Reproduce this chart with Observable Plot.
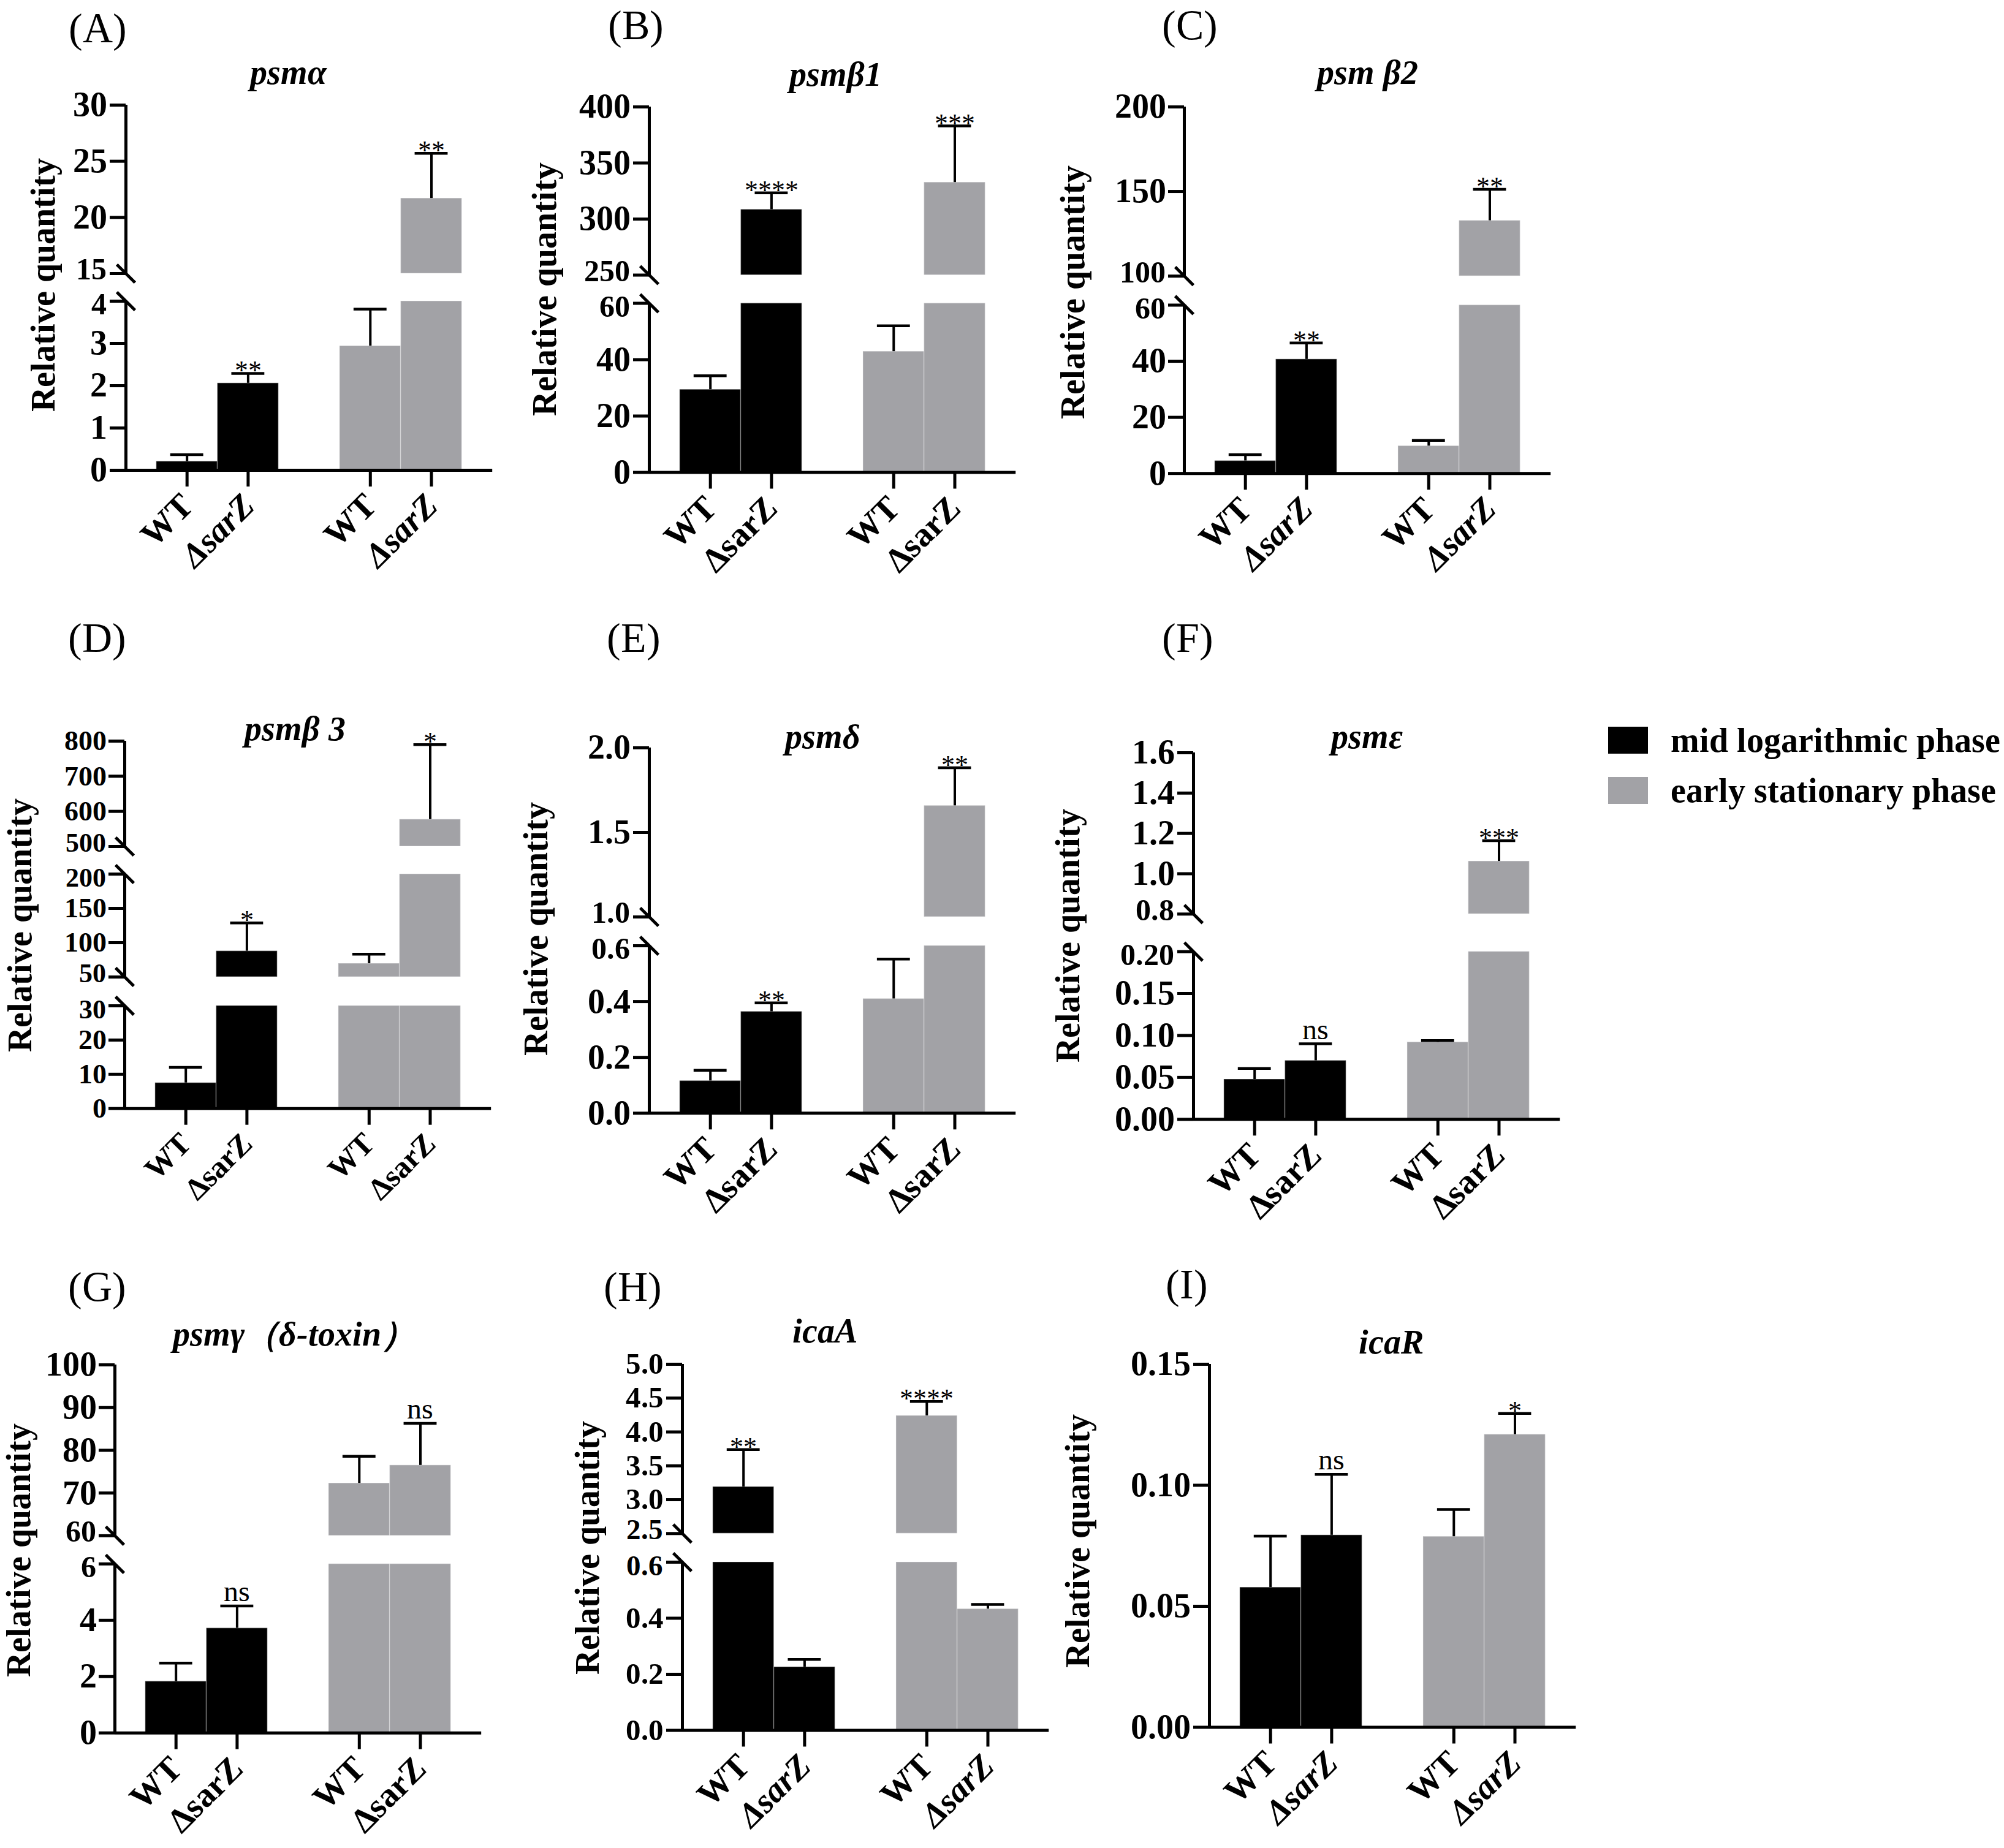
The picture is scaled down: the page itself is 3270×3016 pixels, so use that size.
<!DOCTYPE html>
<html>
<head>
<meta charset="utf-8">
<script src="https://cdn.jsdelivr.net/npm/d3@7"></script>
<script src="https://cdn.jsdelivr.net/npm/@observablehq/plot@0.6"></script>
<style>
@font-face { font-family: "PaperSerif"; font-weight: 700; font-style: normal;
  src: local("Liberation Serif Bold"), local("LiberationSerif-Bold"), local("DejaVu Serif Bold"), local("DejaVuSerif-Bold"); }
@font-face { font-family: "PaperSerif"; font-weight: 700; font-style: italic;
  src: local("Liberation Serif Bold Italic"), local("LiberationSerif-BoldItalic"), local("DejaVu Serif Bold Italic"), local("DejaVuSerif-BoldItalic"); }
@font-face { font-family: "PaperSerif"; font-weight: 400; font-style: normal;
  src: local("Liberation Serif"), local("Liberation Serif Regular"), local("LiberationSerif"), local("LiberationSerif-Regular"); }
@font-face { font-family: "PaperSerif"; font-weight: 400; font-style: italic;
  src: local("Liberation Serif Italic"), local("LiberationSerif-Italic"); }
html, body { margin: 0; padding: 0; background: #fff; }
#page { position: relative; width: 3270px; height: 3016px; background: #fff; overflow: hidden;
  font-family: "PaperSerif", "Liberation Serif", serif; color: #000; }
.abs { position: absolute; white-space: nowrap; line-height: 1; }
.plabel { font-size: 68px; transform: translateY(-50%); }
.title { font-size: 56px; font-weight: bold; font-style: italic; transform: translate(-50%, -50%); }
.ylab { font-size: 56px; font-weight: bold; transform: translate(-50%, -50%) rotate(-90deg); }
.panel { position: absolute; }
.panel svg { overflow: visible; max-width: none; }
.leg { position: absolute; display: flex; align-items: center; font-size: 56px; font-weight: bold; white-space: nowrap; }
.leg .sw { width: 65px; height: 44px; margin-right: 37px; }
</style>
</head>
<body>
<div id="page"></div>
<script>
// ---------- data ----------
const groups = ["mid logarithmic phase", "early stationary phase"];
const strains = ["WT", "ΔsarZ"];
const groupColors = ["#000000", "#a2a2a6"];
const panelIds = ["A", "B", "C", "D", "E", "F", "G", "H", "I"];
const genes = ["psmα", "psmβ1", "psm β2", "psmβ 3", "psmδ", "psmε", "psmγ（δ-toxin）", "icaA", "icaR"];
const yTitle = "Relative quantity";

// bar order: WT mid, ΔsarZ mid, WT early, ΔsarZ early
const meanA = [0.21, 2.06, 2.94, 21.7];
const errA = [0.16, 0.23, 0.87, 4.0];
const sigA = ["", "**", "", "**"];
const segA = [[0, 4], [15, 30]];
const tickA = [["0", "1", "2", "3", "4"], ["15", "20", "25", "30"]];

const meanB = [29.4, 308.5, 42.9, 332.7];
const errB = [4.9, 14.8, 9.1, 50.3];
const sigB = ["", "****", "", "***"];
const segB = [[0, 60], [250, 400]];
const tickB = [["0", "20", "40", "60"], ["250", "300", "350", "400"]];

const meanC = [4.5, 40.7, 9.8, 132.8];
const errC = [2.2, 5.8, 2.0, 18.5];
const sigC = ["", "**", "", "**"];
const segC = [[0, 60], [100, 200]];
const tickC = [["0", "20", "40", "60"], ["100", "150", "200"]];

const meanD = [7.5, 87.8, 69.6, 577];
const errD = [4.5, 41, 13.6, 213];
const sigD = ["", "*", "", "*"];
const segD = [[0, 30], [50, 200], [500, 800]];
const tickD = [["0", "10", "20", "30"], ["50", "100", "150", "200"], ["500", "600", "700", "800"]];

const meanE = [0.116, 0.364, 0.41, 1.658];
const errE = [0.038, 0.031, 0.142, 0.224];
const sigE = ["", "**", "", "**"];
const segE = [[0, 0.6], [1.0, 2.0]];
const tickE = [["0.0", "0.2", "0.4", "0.6"], ["1.0", "1.5", "2.0"]];

const meanF = [0.0477, 0.070, 0.092, 1.062];
const errF = [0.013, 0.020, 0.002, 0.102];
const sigF = ["", "ns", "", "***"];
const segF = [[0, 0.2], [0.8, 1.6]];
const tickF = [["0.00", "0.05", "0.10", "0.15", "0.20"], ["0.8", "1.0", "1.2", "1.4", "1.6"]];

const meanG = [1.83, 3.72, 72.3, 76.5];
const errG = [0.65, 0.79, 6.3, 9.8];
const sigG = ["", "ns", "", "ns"];
const segG = [[0, 6], [60, 100]];
const tickG = [["0", "2", "4", "6"], ["60", "70", "80", "90", "100"]];

const meanH = [3.19, 0.226, 4.24, 0.433];
const errH = [0.55, 0.027, 0.21, 0.016];
const sigH = ["**", "", "****", ""];
const segH = [[0, 0.6], [2.5, 5.0]];
const tickH = [["0.0", "0.2", "0.4", "0.6"], ["2.5", "3.0", "3.5", "4.0", "4.5", "5.0"]];

const meanI = [0.0578, 0.0794, 0.0788, 0.121];
const errI = [0.0212, 0.0251, 0.0112, 0.0087];
const sigI = ["", "ns", "", "*"];
const segI = [[0, 0.15]];
const tickI = [["0.00", "0.05", "0.10", "0.15"]];

// ---------- layout (page pixels, styles only) ----------
const layouts = {
  A: {axisX: 205, segPx: [[767, 491], [446, 171]], italic: true, label: [112, 46], title: [470, 118], ylab: [70, 465]},
  B: {axisX: 1059, segPx: [[770, 494], [448, 173.5]], italic: false, label: [992, 41], title: [1363, 121], ylab: [888, 472]},
  C: {axisX: 1932, segPx: [[771.7, 497], [449.6, 173.5]], italic: true, label: [1896, 41], title: [2231, 118], ylab: [1750, 477]},
  D: {axisX: 203, segPx: [[1808.7, 1641], [1594, 1426], [1381, 1209]], italic: false, tickFont: 46, breakFont: 44, xFont: 50, label: [111, 1041], title: [481, 1189], ylab: [32, 1510]},
  E: {axisX: 1059, segPx: [[1816.3, 1543], [1496, 1220]], italic: false, label: [990, 1041], title: [1342, 1202], ylab: [874, 1516]},
  F: {axisX: 1947, segPx: [[1826, 1552.3], [1491, 1227.7]], italic: false, label: [1896, 1041], title: [2230, 1202], ylab: [1742, 1527]},
  G: {axisX: 187, segPx: [[2827.4, 2551.6], [2505.6, 2226.7]], italic: false, label: [111, 2100], title: [480, 2177], ylab: [30, 2530]},
  H: {axisX: 1113, segPx: [[2823, 2548.5], [2501.8, 2225.5]], italic: true, tickFont: 49, breakFont: 47, label: [985, 2100], title: [1346, 2172], ylab: [958, 2526]},
  I: {axisX: 1972.5, segPx: [[2818, 2225.5]], italic: true, label: [1902, 2096], title: [2270, 2190], ylab: [1758, 2515]}
};

const panelData = {
  A: {mean: meanA, err: errA, sig: sigA, segs: segA, ticks: tickA},
  B: {mean: meanB, err: errB, sig: sigB, segs: segB, ticks: tickB},
  C: {mean: meanC, err: errC, sig: sigC, segs: segC, ticks: tickC},
  D: {mean: meanD, err: errD, sig: sigD, segs: segD, ticks: tickD},
  E: {mean: meanE, err: errE, sig: sigE, segs: segE, ticks: tickE},
  F: {mean: meanF, err: errF, sig: sigF, segs: segF, ticks: tickF},
  G: {mean: meanG, err: errG, sig: sigG, segs: segG, ticks: tickG},
  H: {mean: meanH, err: errH, sig: sigH, segs: segH, ticks: tickH},
  I: {mean: meanI, err: errI, sig: sigI, segs: segI, ticks: tickI}
};

const FONT = "PaperSerif, 'Liberation Serif', serif";
const UNIT = 99.7;      // px per bar slot
const CAP = 0.27;       // half cap width in bar slots
const page = document.getElementById("page");

const slash = {
  draw(context, size) {
    const r = Math.sqrt(size / Math.PI) * 0.7071;
    context.moveTo(-r, -r);
    context.lineTo(r, r);
  }
};

function addText(cls, text, x, y) {
  const d = document.createElement("div");
  d.className = "abs " + cls;
  d.style.left = x + "px";
  d.style.top = y + "px";
  d.textContent = text;
  page.appendChild(d);
}

function drawPanel(id, idx) {
  const P = panelData[id];
  const L = layouts[id];
  const tickFont = L.tickFont || 56;
  const breakFont = L.breakFont || 50;
  const xFont = L.xFont || 56;
  const nSeg = P.segs.length;
  const zeroPx = L.segPx[0][0];
  const topPx = L.segPx[nSeg - 1][1];
  const mLeft = 220, mRight = 62, mTop = 70, mBottom = 280;
  const W = mLeft + 6 * UNIT + mRight;
  const svgLeft = L.axisX - mLeft;
  const svgTop = topPx - mTop;
  const H = zeroPx - svgTop + mBottom;

  const rows = P.mean.map((m, i) => ({
    group: groups[Math.floor(i / 2)],
    strain: strains[i % 2],
    mean: m,
    err: P.err[i],
    sig: P.sig[i],
    c: 1 + (i % 2) + 3 * Math.floor(i / 2)
  }));
  const clipTo = (a, b) => P.segs
    .filter(([lo, hi]) => b > lo && a < hi)
    .map(([lo, hi]) => [Math.max(a, lo), Math.min(b, hi)]);
  const base = P.segs[0][0];
  const barPieces = rows.flatMap(r => clipTo(base, r.mean).map(([y1, y2]) => ({...r, y1, y2})));
  const errPieces = rows.flatMap(r => clipTo(r.mean, r.mean + r.err).map(([y1, y2]) => ({...r, y1, y2})));
  const axisSegs = P.segs.map(([lo, hi]) => ({lo, hi}));
  const breakLow = P.segs.slice(0, -1).map(s => s[1]);          // top of a lower segment
  const breakHigh = P.segs.slice(1).map(s => s[0]);             // bottom of an upper segment
  const breakVals = breakLow.concat(breakHigh);
  const tickStrs = P.ticks.flat();
  const tickVals = tickStrs.map(Number);
  const tickMap = new Map(tickVals.map((v, i) => [v, tickStrs[i]]));
  const starRows = rows.filter(r => r.sig && r.sig.includes("*"));
  const nsRows = rows.filter(r => r.sig === "ns");

  const xAxisCommon = {
    tickRotate: -45, tickSize: 27, tickPadding: 22, fontSize: xFont, fontWeight: "bold",
    strokeWidth: 5, label: null, anchor: "bottom"
  };
  const yLabelCommon = {
    frameAnchor: "left", dx: -31, textAnchor: "end", lineAnchor: "middle",
    fontSize: breakFont, fontWeight: "bold", fill: "black", text: d => tickMap.get(d), y: d => d
  };

  const svg = Plot.plot({
    width: W, height: H,
    marginLeft: mLeft, marginRight: mRight, marginTop: mTop, marginBottom: mBottom,
    style: {fontFamily: FONT, background: "transparent", overflow: "visible"},
    x: {domain: [0, 6]},
    y: {type: "linear", domain: P.segs.flat(), range: L.segPx.flat().map(v => v - svgTop)},
    color: {domain: groups, range: groupColors},
    marks: [
      Plot.rect(barPieces, {x1: d => d.c - 0.5, x2: d => d.c + 0.5, y1: "y1", y2: "y2", fill: "group",
        stroke: "white", strokeOpacity: 0.3, strokeWidth: 1.5}),
      Plot.ruleX(errPieces, {x: "c", y1: "y1", y2: "y2", stroke: "black", strokeWidth: 4}),
      Plot.ruleY(rows, {y: d => d.mean + d.err, x1: d => d.c - CAP, x2: d => d.c + CAP, stroke: "black", strokeWidth: 4.5}),
      Plot.ruleX(axisSegs, {x: () => 0, y1: "lo", y2: "hi", stroke: "black", strokeWidth: 5}),
      Plot.ruleY([base], {x1: 0, x2: 6, stroke: "black", strokeWidth: 5}),
      Plot.axisY({ticks: tickVals, tickFormat: d => (breakVals.includes(d) ? "" : tickMap.get(d)), tickSize: 26, tickPadding: 4,
        fontSize: tickFont, fontWeight: "bold", strokeWidth: 5, label: null, anchor: "left"}),
      Plot.text(breakLow, {...yLabelCommon, dy: 6}),
      Plot.text(breakHigh, {...yLabelCommon, dy: -6}),
      Plot.axisX({...xAxisCommon, ticks: [1, 4], tickFormat: () => strains[0]}),
      Plot.axisX({...xAxisCommon, ticks: [2, 5], tickFormat: () => strains[1], fontStyle: L.italic ? "italic" : "normal"}),
      Plot.dot(breakVals, {x: () => 0, y: d => d, r: 21, symbol: slash, stroke: "black", strokeWidth: 5, fill: "none"}),
      Plot.text(starRows, {x: "c", y: d => d.mean + d.err, text: "sig", lineAnchor: "bottom", dy: 10, fontSize: 44, fill: "black"}),
      Plot.text(nsRows, {x: "c", y: d => d.mean + d.err, text: "sig", lineAnchor: "bottom", dy: -8, fontSize: 48, fill: "black"})
    ]
  });

  const holder = document.createElement("div");
  holder.className = "panel";
  holder.style.left = svgLeft + "px";
  holder.style.top = svgTop + "px";
  holder.style.width = W + "px";
  holder.style.height = H + "px";
  holder.appendChild(svg);
  page.appendChild(holder);

  addText("plabel", "(" + id + ")", L.label[0], L.label[1]);
  addText("title", genes[idx], L.title[0], L.title[1]);
  addText("ylab", yTitle, L.ylab[0], L.ylab[1]);
}

panelIds.forEach((id, i) => drawPanel(id, i));

// legend
const legendTop = [1176, 1258];
groups.forEach((g, i) => {
  const row = document.createElement("div");
  row.className = "leg";
  row.style.left = "2624px";
  row.style.top = legendTop[i] + "px";
  const sw = document.createElement("div");
  sw.className = "sw";
  sw.style.background = groupColors[i];
  const t = document.createElement("span");
  t.textContent = g;
  row.appendChild(sw);
  row.appendChild(t);
  page.appendChild(row);
});
</script>
</body>
</html>
